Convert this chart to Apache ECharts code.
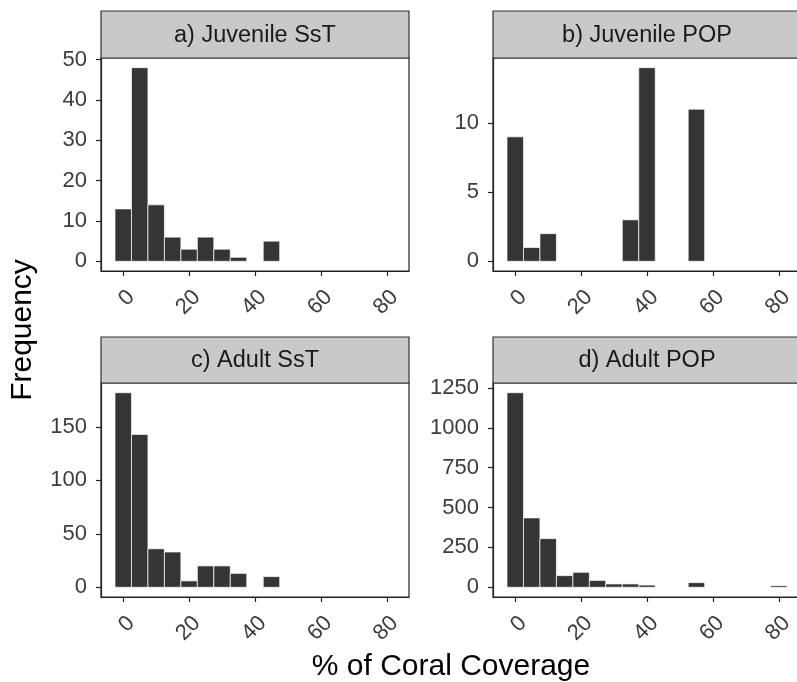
<!DOCTYPE html>
<html>
<head>
<meta charset="utf-8">
<script src="https://cdn.jsdelivr.net/npm/echarts@6.0.0/dist/echarts.min.js"></script>
<style>
  html, body { margin: 0; padding: 0; background: #fff; }
  #main { width: 797px; height: 682px; }
</style>
</head>
<body>
<div id="main"></div>
<script>
// bins of width 5, centred on these values
const binCenters = [0, 5, 10, 15, 20, 25, 30, 35, 40, 45, 50, 55, 60, 65, 70, 75, 80]
const juvenileSsT = [13, 48, 14, 6, 3, 6, 3, 1, 0, 5, 0, 0, 0, 0, 0, 0, 0]
const juvenilePOP = [9, 1, 2, 0, 0, 0, 0, 3, 14, 0, 0, 11, 0, 0, 0, 0, 0]
const adultSsT = [182, 143, 36, 33, 6, 20, 20, 13, 0, 10, 0, 0, 0, 0, 0, 0, 0]
const adultPOP = [1220, 435, 305, 73, 94, 43, 21, 21, 14, 0, 0, 29, 0, 0, 0, 0, 10]

const panelTitles = ['a) Juvenile SsT', 'b) Juvenile POP', 'c) Adult SsT', 'd) Adult POP']
const xTicks = [0, 20, 40, 60, 80]
const yTicksA = [0, 10, 20, 30, 40, 50]
const yTicksB = [0, 5, 10]
const yTicksC = [0, 50, 100, 150]
const yTicksD = [0, 250, 500, 750, 1000, 1250]

const binWidth = 5
const font = 'Liberation Sans, Arial, sans-serif'

let panels = [
  { left: 101, top: 58, height: 213, ymin: -2.4, ymax: 50.4, ticks: yTicksA, counts: juvenileSsT },
  { left: 493, top: 58, height: 213, ymin: -0.7, ymax: 14.7, ticks: yTicksB, counts: juvenilePOP },
  { left: 101, top: 383, height: 214, ymin: -9.1, ymax: 191.1, ticks: yTicksC, counts: adultSsT },
  { left: 493, top: 383, height: 214, ymin: -61, ymax: 1281, ticks: yTicksD, counts: adultPOP }
]
const panelWidth = 308

let myChart = echarts.init(document.getElementById('main'))

let grid = [], xAxis = [], yAxis = [], series = [], graphic = []

panels.forEach((p, i) => {
  grid.push({
    left: p.left, top: p.top, width: panelWidth, height: p.height,
    outerBoundsMode: 'none', containLabel: false,
    show: true, borderColor: '#222', borderWidth: 1.2, backgroundColor: '#fff'
  })
  xAxis.push({
    type: 'value', gridIndex: i, min: -6.75, max: 86.75,
    axisLine: { show: true, onZero: false, lineStyle: { color: '#222', width: 1.2 } },
    axisTick: { show: true, length: 5, lineStyle: { color: '#222', width: 1.2 }, customValues: xTicks },
    axisLabel: {
      customValues: xTicks, rotate: 45, margin: 15, align: 'right', verticalAlign: 'top',
      color: '#3d3d3d', fontSize: 22, fontFamily: font,
      formatter: function(v) { return String(v) }
    },
    splitLine: { show: false }
  })
  yAxis.push({
    type: 'value', gridIndex: i, min: p.ymin, max: p.ymax,
    axisLine: { show: true, onZero: false, lineStyle: { color: '#222', width: 1.2 } },
    axisTick: { show: true, length: 5, lineStyle: { color: '#222', width: 1.2 }, customValues: p.ticks },
    axisLabel: {
      customValues: p.ticks, margin: 14, color: '#3d3d3d', fontSize: 22, fontFamily: font,
      formatter: function(v) { return String(v) }
    },
    splitLine: { show: false }
  })
  let data = []
  binCenters.forEach((c, k) => {
    if (p.counts[k] > 0) data.push([c, p.counts[k]])
  })
  series.push({
    type: 'custom', xAxisIndex: i, yAxisIndex: i, clip: true,
    renderItem: function(params, api) {
      let x = api.value(0), y = api.value(1)
      let p0 = api.coord([x - binWidth / 2, 0])
      let p1 = api.coord([x + binWidth / 2, y])
      return {
        type: 'rect',
        shape: { x: p0[0], y: p1[1], width: p1[0] - p0[0], height: p0[1] - p1[1] },
        style: { fill: '#353535', stroke: '#ffffff', lineWidth: 0.7 }
      }
    },
    encode: { x: 0, y: 1 },
    data: data
  })
  // facet strip
  let stripTop = i < 2 ? 11 : 337
  graphic.push({
    type: 'rect',
    shape: { x: p.left, y: stripTop, width: panelWidth, height: p.top - stripTop },
    style: { fill: '#c9c9c9', stroke: '#333', lineWidth: 1.2 },
    z: 10
  })
  graphic.push({
    type: 'text',
    x: p.left + panelWidth / 2, y: (stripTop + p.top) / 2 + 1,
    style: {
      text: panelTitles[i], fill: '#1a1a1a', font: '23.5px ' + font,
      align: 'center', verticalAlign: 'middle'
    },
    z: 11
  })
})

graphic.push({
  type: 'text', x: 23, y: 330, rotation: Math.PI / 2,
  style: { text: 'Frequency', fill: '#000', font: '30px ' + font, align: 'center', verticalAlign: 'middle' }
})
graphic.push({
  type: 'text', x: 451, y: 667,
  style: { text: '% of Coral Coverage', fill: '#000', font: '30px ' + font, align: 'center', verticalAlign: 'middle' }
})

myChart.setOption({
  animation: false,
  grid: grid,
  xAxis: xAxis,
  yAxis: yAxis,
  series: series,
  graphic: graphic
})
</script>
</body>
</html>
